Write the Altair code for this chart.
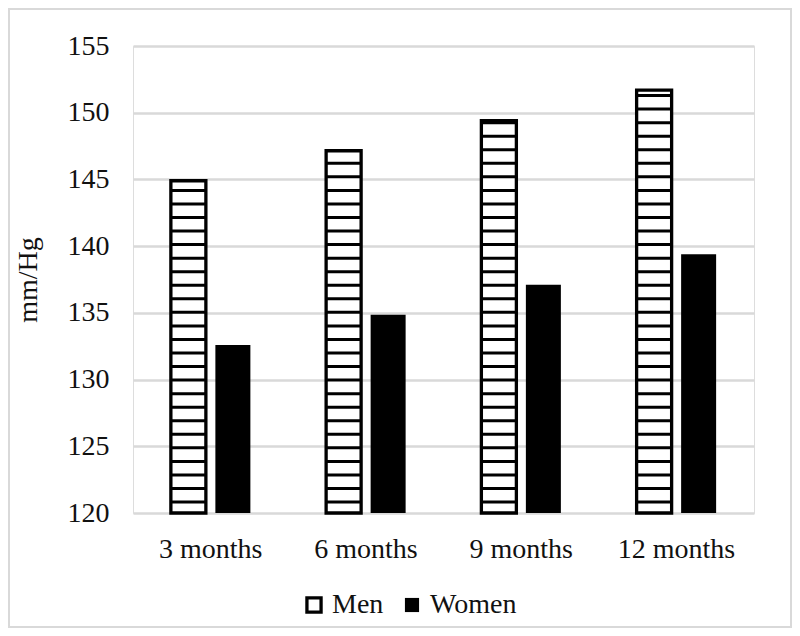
import altair as alt
import pandas as pd

categories = ["3 months", "6 months", "9 months", "12 months"]
series = ["Men", "Women"]
men_values = [144.9, 147.15, 149.4, 151.7]
women_values = [132.6, 134.85, 137.1, 139.4]
y_ticks = [120, 125, 130, 135, 140, 145, 150, 155]

rows = []
for c, m, w in zip(categories, men_values, women_values):
    rows.append({"period": c, "sex": "Men", "value": m})
    rows.append({"period": c, "sex": "Women", "value": w})
df = pd.DataFrame(rows)

# horizontal hatch lines inside the Men bars (decorative pattern)
stripe_start, stripe_step = 120.82, 1.0155
stripes = []
for c, m in zip(categories, men_values):
    k = 0
    while stripe_start + k * stripe_step <= m:
        stripes.append({"period": c, "sex": "Men", "value": stripe_start + k * stripe_step})
        k += 1
sdf = pd.DataFrame(stripes)

FONT = "Liberation Serif"

x_enc = alt.X("period:N", sort=categories, title=None,
              scale=alt.Scale(paddingInner=0, paddingOuter=0),
              axis=alt.Axis(labelFontSize=28, labelFont=FONT, labelColor="#111",
                            labelPadding=22, ticks=False, domain=False, labelAngle=0))
xo_enc = alt.XOffset("sex:N", sort=series,
                     scale=alt.Scale(domain=series, paddingInner=0.2135, paddingOuter=0.851))
y_scale = alt.Scale(domain=[120, 155], nice=False, zero=False)

bars = alt.Chart(df).mark_bar().encode(
    x=x_enc,
    xOffset=xo_enc,
    y=alt.Y("value:Q", scale=y_scale, title="mm/Hg",
            axis=alt.Axis(values=y_ticks, labelFontSize=28, labelFont=FONT, labelColor="#111",
                          labelPadding=24, ticks=False, domain=False,
                          gridColor="#d9d9d9", gridWidth=2.5,
                          titleFont=FONT, titleFontSize=28, titleFontWeight="normal",
                          titleColor="#111", titlePadding=25)),
    y2=alt.datum(120),
    fill=alt.Fill("sex:N", sort=series,
                  scale=alt.Scale(domain=series, range=["white", "black"]),
                  legend=alt.Legend(title=None, orient="none", direction="horizontal",
                                    legendX=167, legendY=545, padding=0,
                                    symbolType="square", symbolSize=200,
                                    symbolStrokeColor="black", symbolStrokeWidth=3,
                                    labelFont=FONT, labelFontSize=28, labelColor="#111",
                                    labelOffset=4, columnPadding=14)),
    stroke=alt.Stroke("sex:N", sort=series,
                      scale=alt.Scale(domain=series, range=["black", "black"]),
                      legend=None),
    strokeWidth=alt.StrokeWidth("sex:N", sort=series,
                                scale=alt.Scale(domain=series, range=[3.3, 0]),
                                legend=None),
)

hatch = alt.Chart(sdf).mark_tick(color="black", thickness=3, size=35, opacity=1).encode(
    x=alt.X("period:N", sort=categories),
    xOffset=alt.XOffset("sex:N", sort=series),
    y=alt.Y("value:Q", scale=y_scale),
)

frame = alt.Chart(pd.DataFrame({"a": [0]})).mark_rect(
    fill=None, stroke="#d9d9d9", strokeWidth=2
).encode(
    x=alt.value(-124), x2=alt.value(658), y=alt.value(-37), y2=alt.value(581)
)

chart = alt.layer(bars, hatch, frame).resolve_scale(
    x="shared", y="shared"
).properties(
    width=621, height=467,
    autosize=alt.AutoSizeParams(type="none"),
    padding={"left": 125, "top": 38, "right": 38, "bottom": 115},
).configure_view(stroke=None).configure(background="white")

chart.save("out.html", embed_options={"renderer": "svg", "actions": False})
